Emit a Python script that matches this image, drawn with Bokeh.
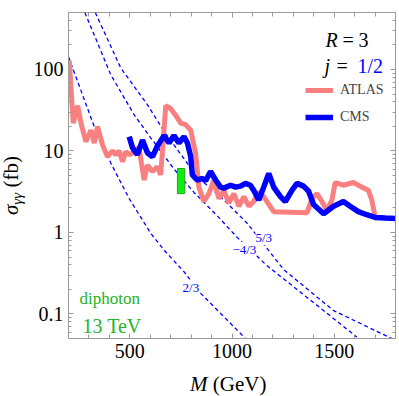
from bokeh.plotting import figure
from bokeh.models import (Range1d, FixedTicker, LinearAxis, LogAxis, Label,
                          Legend, LegendItem, Div)
from bokeh.layouts import row, column
from bokeh.embed import file_html
from bokeh.resources import INLINE

FONT = "Liberation Serif"

# ---------------- data ----------------
atlas_mass = [204, 223, 245, 261, 285, 310, 326, 342, 367, 391, 415, 432, 448,
              464, 480, 500, 545, 570, 586, 611, 635, 651, 676, 700, 724, 749,
              773, 798, 822, 838, 862, 887, 911, 936, 960, 984, 1009, 1033,
              1058, 1082, 1106, 1131, 1155, 1204, 1367, 1391, 1416, 1440, 1464,
              1489, 1505, 1545, 1594, 1635, 1667, 1684, 1700]
atlas_sigma = [128, 22, 36, 22, 13, 18, 12.5, 20, 11.8, 8.5, 10, 9, 10,
               7.4, 9.8, 9, 11, 4.4, 6.7, 5.6, 6.4, 5.1, 36, 33, 27.5, 22,
               21, 18, 9.4, 3.6, 2.4, 3.0, 4.4, 2.6, 3.3, 2.3, 3.0, 2.1,
               2.75, 2.1, 2.4, 3.15, 2.75, 1.8, 1.75, 2.6, 3.0, 2.4, 1.85,
               2.5, 4.1, 3.8, 4.1, 3.6, 3.3, 2.5, 1.55]

cms_mass = [497, 513, 537, 562, 586, 611, 635, 668, 692, 716, 740, 765, 782,
            798, 806, 830, 855, 871, 895, 920, 944, 960, 993, 1017, 1042, 1066,
            1090, 1106, 1131, 1155, 1180, 1204, 1237, 1261, 1294, 1318, 1350,
            1375, 1399, 1448, 1497, 1545, 1578, 1618, 1659, 1700, 1750, 1800]
cms_sigma = [15, 11, 9, 13.6, 9.5, 8.5, 11.5, 15.5, 12.5, 15.5, 12.5, 15, 12.5,
             8.5, 5.1, 4.4, 4.6, 4.3, 5.6, 4.4, 3.6, 3.5, 3.8, 3.6, 3.7, 4.0,
             3.8, 3.3, 2.5, 3.6, 5.3, 3.6, 2.75, 2.4, 3.3, 4.0, 3.7,
             3.2, 2.2, 1.7, 2.1, 2.4, 2.1, 1.8, 1.65, 1.53, 1.5, 1.48]

# theory curves, charge 2/3, -4/3, 5/3
q23_mass = [200, 326, 407, 496, 602, 667, 765, 846, 1066]
q23_sigma = [143, 19.9, 7.1, 2.63, 0.98, 0.61, 0.33, 0.18, 0.05]
qm43_mass = [280, 407, 521, 602, 720, 814, 928, 1025, 1172, 1334, 1611]
qm43_sigma = [500, 86, 27.9, 14.5, 5.85, 3.1, 1.6, 0.87, 0.39, 0.186, 0.052]
q53_mass = [331, 456, 586, 667, 830, 944, 1074, 1253, 1497, 1782]
q53_sigma = [500, 104, 37, 17.5, 4.8, 2.75, 1.3, 0.35, 0.11, 0.05]

# 750 GeV excess box
excess_mass_lo = [733]
excess_mass_hi = [769]
excess_sigma_lo = [3.0]
excess_sigma_hi = [6.1]

x_major = [500, 1000, 1500]
x_minor = list(range(200, 1801, 100))
y_major = [0.1, 1, 10, 100]
y_major_labels = ["0.1", "1", "10", "100"]
y_minor = [0.05, 0.06, 0.07, 0.08, 0.09, 0.2, 0.3, 0.4, 0.5, 0.6, 0.7, 0.8,
           0.9, 2, 3, 4, 5, 6, 7, 8, 9, 20, 30, 40, 50, 60, 70, 80, 90, 200,
           300, 400, 500]

# ---------------- figure ----------------
YDIV_W = 30
XDIV_H = 30
p = figure(width=399 - YDIV_W, height=396 - XDIV_H, x_range=Range1d(200, 1800),
           y_range=Range1d(0.05, 500), y_axis_type="log",
           output_backend="svg", toolbar_location=None,
           min_border_left=68 - YDIV_W, min_border_right=4, min_border_top=12,
           min_border_bottom=28, margin=0)
p.grid.visible = False
FRAME = "#9a9a9a"
p.outline_line_color = FRAME
p.background_fill_color = "white"
p.border_fill_color = "white"


def style_axis(ax, show_labels, minor_len):
    ax.axis_line_color = FRAME
    ax.major_tick_line_color = FRAME
    ax.minor_tick_line_color = FRAME
    ax.major_tick_in = 5
    ax.major_tick_out = 0
    ax.minor_tick_in = minor_len
    ax.minor_tick_out = 0
    ax.major_label_text_font = FONT
    ax.major_label_text_color = "black"
    if show_labels:
        ax.major_label_text_font_size = "20px"
        ax.major_label_standoff = 5
    else:
        ax.major_label_text_font_size = "0px"
        ax.major_label_standoff = 0


p.xaxis[0].ticker = FixedTicker(ticks=x_major, minor_ticks=x_minor)
p.yaxis[0].ticker = FixedTicker(ticks=y_major, minor_ticks=y_minor)
style_axis(p.xaxis[0], True, 4)
style_axis(p.yaxis[0], True, 3)
p.yaxis[0].major_label_overrides = dict(zip(y_major, y_major_labels))

ax_top = LinearAxis(ticker=FixedTicker(ticks=x_major, minor_ticks=x_minor))
style_axis(ax_top, False, 4)
ax_top.major_label_overrides = {v: "" for v in x_major}
p.add_layout(ax_top, "above")

ax_right = LogAxis(ticker=FixedTicker(ticks=y_major, minor_ticks=y_minor))
style_axis(ax_right, False, 3)
ax_right.major_label_overrides = {v: "" for v in y_major}
p.add_layout(ax_right, "right")

# theory curves
for m, s in ((q23_mass, q23_sigma), (qm43_mass, qm43_sigma), (q53_mass, q53_sigma)):
    p.line(m, s, line_color="#0000ff", line_width=1.3, line_dash="4 3")

# data
r_atlas = p.line(atlas_mass, atlas_sigma, line_color="#fa8080", line_width=5)
r_cms = p.line(cms_mass, cms_sigma, line_color="#0000ff", line_width=5.5)

p.quad(left=excess_mass_lo, right=excess_mass_hi, bottom=excess_sigma_lo,
       top=excess_sigma_hi, fill_color="#11ee11", line_color="#22a022",
       line_width=1)

# curve labels
for txt, xm, ys in (("2/3", 758, 0.214), ("5/3", 1115, 0.87), ("\u22124/3", 1002, 0.62)):
    p.add_layout(Label(x=xm, y=ys, text=txt, text_color="#0000ff",
                       text_font=FONT, text_font_size="13px",
                       text_baseline="alphabetic",
                       background_fill_color="white"))

# legend
legend = Legend(items=[LegendItem(label="ATLAS", renderers=[r_atlas]),
                       LegendItem(label="CMS", renderers=[r_cms])],
                location=(237, 211), orientation="vertical",
                border_line_alpha=0, background_fill_alpha=0,
                padding=0, margin=0, spacing=7, glyph_width=28,
                glyph_height=20, label_height=20, label_standoff=7,
                label_text_font=FONT, label_text_font_size="14px",
                label_text_baseline="middle")
p.add_layout(legend)


def lab(text, x, y, size="20px", style="normal", color="black"):
    p.add_layout(Label(x=x, y=y, x_units="screen", y_units="screen", text=text,
                       text_font=FONT, text_font_size=size,
                       text_font_style=style, text_color=color,
                       text_baseline="alphabetic", text_align="left"))


# R = 3, j = 1/2
lab("R", 257, 299, style="italic")
lab("=", 274, 299)
lab("3", 290, 299)
lab("j", 256, 273, style="italic")
lab("=", 268, 273)
lab("1/2", 289, 273, color="#0000ff")

# diphoton 13 TeV
lab("diphoton", 11, 40, size="17px", color="#26b326")
lab("13 TeV", 14, 13, size="20px", color="#26b326")

# axis titles (outside the frame, as HTML text)
TXT = ("font-family:'Liberation Serif'; font-size:21px; line-height:20px; "
       "color:black; white-space:nowrap;")
ylab_html = (
    '<div style="position:relative; width:%dpx; height:%dpx;">'
    '<div style="position:absolute; left:1px; top:215px; transform:rotate(-90deg); '
    'transform-origin:0 0; %s">'
    '<i>\u03c3</i><i style="font-size:15px; position:relative; top:4px;">\u03b3\u03b3</i>'
    ' (fb)</div></div>' % (YDIV_W, 396 - XDIV_H, TXT)
)
xlab_html = (
    '<div style="position:relative; width:399px; height:%dpx;">'
    '<div style="position:absolute; left:190px; top:8px; %s">'
    '<i>M</i> (GeV)</div></div>' % (XDIV_H, TXT)
)
ydiv = Div(text=ylab_html, width=YDIV_W, height=396 - XDIV_H, margin=0)
xdiv = Div(text=xlab_html, width=399, height=XDIV_H, margin=0)

layout = column(row(ydiv, p, spacing=0, margin=0), xdiv, spacing=0, margin=0)

open("out.html", "w").write(file_html(layout, INLINE))
